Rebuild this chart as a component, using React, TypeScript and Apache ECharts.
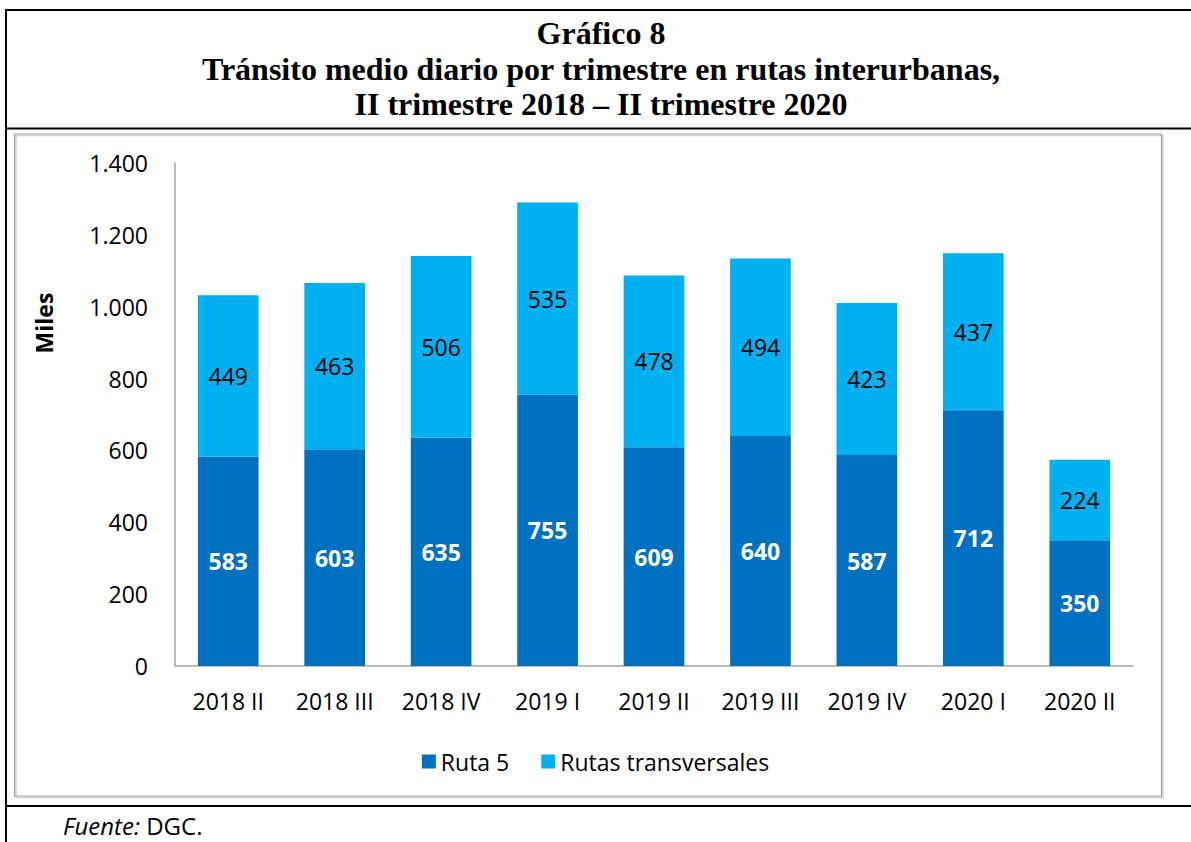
import React, { useEffect, useRef } from "react";
import * as echarts from "echarts";

const categories = ["2018 II", "2018 III", "2018 IV", "2019 I", "2019 II", "2019 III", "2019 IV", "2020 I", "2020 II"];
const ruta5 = [583, 603, 635, 755, 609, 640, 587, 712, 350];
const transversales = [449, 463, 506, 535, 478, 494, 423, 437, 224];
const seriesNames = ["Ruta 5", "Rutas transversales"];
const titleLines = [
  "Gráfico 8",
  "Tránsito medio diario por trimestre en rutas interurbanas,",
  "II trimestre 2018 – II trimestre 2020",
];

const FONT = "'Open Sans', sans-serif";
const SERIF = "'Liberation Serif', 'Times New Roman', serif";
const FS = 23;

export default function App() {
  const ref = useRef<HTMLDivElement>(null);
  useEffect(() => {
    document.body.style.margin = "0";
    const chart = echarts.init(ref.current!, null, { renderer: "svg" });
    chart.setOption({
      animation: false,
      backgroundColor: "#ffffff",
      textStyle: { fontFamily: FONT },
      grid: { left: 175, right: 58, top: 163, bottom: 176, containLabel: false },
      legend: {
        data: seriesNames,
        left: "center",
        top: 745,
        itemWidth: 14,
        itemHeight: 14,
        itemGap: 32,
        icon: "rect",
        textStyle: { fontSize: FS, color: "#000", fontFamily: FONT },
      },
      xAxis: {
        type: "category",
        data: categories,
        axisLine: { lineStyle: { color: "#A6A6A6", width: 1.5 } },
        axisTick: { show: false },
        axisLabel: { color: "#000", fontSize: FS, margin: 23, fontFamily: FONT },
      },
      yAxis: {
        type: "value",
        min: 0,
        max: 1400,
        interval: 200,
        axisLine: { show: true, lineStyle: { color: "#A6A6A6", width: 1.5 } },
        axisTick: { show: false },
        splitLine: { show: false },
        axisLabel: {
          color: "#000",
          fontSize: FS,
          margin: 27,
          fontFamily: FONT,
          formatter: (v: number) => v.toLocaleString("de-DE"),
        },
      },
      series: [
        {
          name: seriesNames[0],
          type: "bar",
          stack: "total",
          data: ruta5,
          barWidth: "57%",
          itemStyle: { color: "#0070C0" },
          label: {
            show: true,
            position: "inside",
            color: "#fff",
            fontWeight: "bold",
            fontSize: FS,
            fontFamily: FONT,
          },
        },
        {
          name: seriesNames[1],
          type: "bar",
          stack: "total",
          data: transversales,
          barWidth: "57%",
          itemStyle: { color: "#00B0F0" },
          label: {
            show: true,
            position: "inside",
            color: "#000",
            fontSize: FS,
            fontFamily: FONT,
          },
        },
      ],
      graphic: [
        // outer frame lines
        { type: "line", shape: { x1: 6, y1: 10, x2: 1191, y2: 10 }, style: { stroke: "#000", lineWidth: 2 }, silent: true },
        { type: "line", shape: { x1: 6, y1: 9, x2: 6, y2: 842 }, style: { stroke: "#000", lineWidth: 2 }, silent: true },
        { type: "line", shape: { x1: 6, y1: 128.5, x2: 1191, y2: 128.5 }, style: { stroke: "#000", lineWidth: 2 }, silent: true },
        { type: "line", shape: { x1: 6, y1: 806, x2: 1191, y2: 806 }, style: { stroke: "#000", lineWidth: 2 }, silent: true },
        // inner chart box with shadow
        { type: "rect", shape: { x: 16, y: 135.5, width: 1147, height: 662 }, style: { fill: "none", stroke: "#D0D0D0", lineWidth: 1.5 }, silent: true },
        { type: "rect", shape: { x: 14.5, y: 134, width: 1147, height: 662 }, style: { fill: "none", stroke: "#A0A0A0", lineWidth: 1.2 }, silent: true },
        // title
        ...titleLines.map((t, i) => ({
          type: "text",
          x: 601,
          y: 33 + i * 35.5,
          silent: true,
          style: {
            text: t,
            textAlign: "center",
            textVerticalAlign: "middle",
            font: `bold 32px ${SERIF}`,
            fill: "#000",
          },
        })),
        // y axis name
        {
          type: "text",
          x: 44,
          y: 323,
          rotation: Math.PI / 2,
          silent: true,
          style: {
            text: "Miles",
            textAlign: "center",
            textVerticalAlign: "middle",
            font: `bold 23px ${FONT}`,
            fill: "#000",
          },
        },
        // source
        {
          type: "text",
          x: 63,
          y: 825,
          silent: true,
          style: {
            text: "{i|Fuente:} DGC.",
            textVerticalAlign: "middle",
            font: `24px ${FONT}`,
            fill: "#000",
            rich: {
              i: { fontStyle: "italic", fontSize: 24, fontFamily: FONT, fill: "#000" },
            },
          },
        },
      ],
    });
    return () => chart.dispose();
  }, []);
  return <div ref={ref} style={{ position: "fixed", left: 0, top: 0, width: 1191, height: 842 }} />;
}
